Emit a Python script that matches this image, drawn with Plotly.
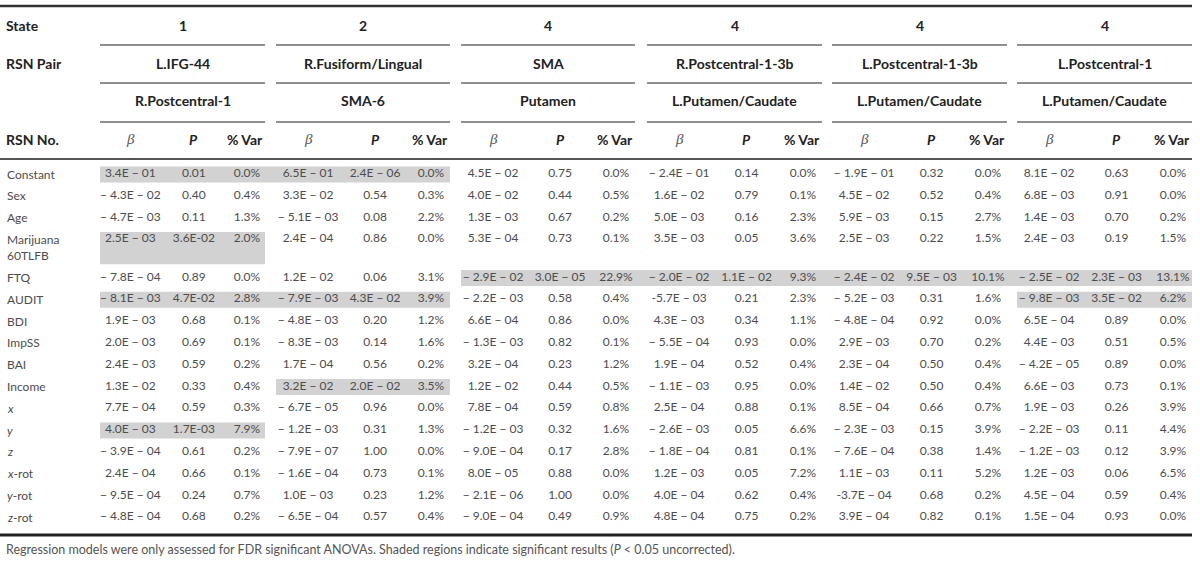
import plotly.graph_objects as go

# ---------------- data ----------------
states = ["1", "2", "4", "4", "4", "4"]
rsn_pair_a = ["L.IFG-44", "R.Fusiform/Lingual", "SMA", "R.Postcentral-1-3b", "L.Postcentral-1-3b", "L.Postcentral-1"]
rsn_pair_b = ["R.Postcentral-1", "SMA-6", "Putamen", "L.Putamen/Caudate", "L.Putamen/Caudate", "L.Putamen/Caudate"]

row_labels = ["Constant", "Sex", "Age", "Marijuana<br>60TLFB", "FTQ", "AUDIT", "BDI", "ImpSS", "BAI",
              "Income", "<i>x</i>", "<i>y</i>", "<i>z</i>", "<i>x</i>-rot", "<i>y</i>-rot", "<i>z</i>-rot"]
row_lines = [1, 1, 1, 2, 1, 1, 1, 1, 1, 1, 1, 1, 1, 1, 1, 1]

beta_g1 = ["3.4E − 01", "− 4.3E − 02", "− 4.7E − 03", "2.5E − 03", "− 7.8E − 04", "− 8.1E − 03", "1.9E − 03", "2.0E − 03",
           "2.4E − 03", "1.3E − 02", "7.7E − 04", "4.0E − 03", "− 3.9E − 04", "2.4E − 04", "− 9.5E − 04", "− 4.8E − 04"]
p_g1 = ["0.01", "0.40", "0.11", "3.6E-02", "0.89", "4.7E-02", "0.68", "0.69", "0.59", "0.33", "0.59", "1.7E-03",
        "0.61", "0.66", "0.24", "0.68"]
var_g1 = ["0.0%", "0.4%", "1.3%", "2.0%", "0.0%", "2.8%", "0.1%", "0.1%", "0.2%", "0.4%", "0.3%", "7.9%",
          "0.2%", "0.1%", "0.7%", "0.2%"]

beta_g2 = ["6.5E − 01", "3.3E − 02", "− 5.1E − 03", "2.4E − 04", "1.2E − 02", "− 7.9E − 03", "− 4.8E − 03", "− 8.3E − 03",
           "1.7E − 04", "3.2E − 02", "− 6.7E − 05", "− 1.2E − 03", "− 7.9E − 07", "− 1.6E − 04", "1.0E − 03", "− 6.5E − 04"]
p_g2 = ["2.4E − 06", "0.54", "0.08", "0.86", "0.06", "4.3E − 02", "0.20", "0.14", "0.56", "2.0E − 02", "0.96", "0.31",
        "1.00", "0.73", "0.23", "0.57"]
var_g2 = ["0.0%", "0.3%", "2.2%", "0.0%", "3.1%", "3.9%", "1.2%", "1.6%", "0.2%", "3.5%", "0.0%", "1.3%",
          "0.0%", "0.1%", "1.2%", "0.4%"]

beta_g3 = ["4.5E − 02", "4.0E − 02", "1.3E − 03", "5.3E − 04", "− 2.9E − 02", "− 2.2E − 03", "6.6E − 04", "− 1.3E − 03",
           "3.2E − 04", "1.2E − 02", "7.8E − 04", "− 1.2E − 03", "− 9.0E − 04", "8.0E − 05", "− 2.1E − 06", "− 9.0E − 04"]
p_g3 = ["0.75", "0.44", "0.67", "0.73", "3.0E − 05", "0.58", "0.86", "0.82", "0.23", "0.44", "0.59", "0.32",
        "0.17", "0.88", "1.00", "0.49"]
var_g3 = ["0.0%", "0.5%", "0.2%", "0.1%", "22.9%", "0.4%", "0.0%", "0.1%", "1.2%", "0.5%", "0.8%", "1.6%",
          "2.8%", "0.0%", "0.0%", "0.9%"]

beta_g4 = ["− 2.4E − 01", "1.6E − 02", "5.0E − 03", "3.5E − 03", "− 2.0E − 02", "-5.7E − 03", "4.3E − 03", "− 5.5E − 04",
           "1.9E − 04", "− 1.1E − 03", "2.5E − 04", "− 2.6E − 03", "− 1.8E − 04", "1.2E − 03", "4.0E − 04", "4.8E − 04"]
p_g4 = ["0.14", "0.79", "0.16", "0.05", "1.1E − 02", "0.21", "0.34", "0.93", "0.52", "0.95", "0.88", "0.05",
        "0.81", "0.05", "0.62", "0.75"]
var_g4 = ["0.0%", "0.1%", "2.3%", "3.6%", "9.3%", "2.3%", "1.1%", "0.0%", "0.4%", "0.0%", "0.1%", "6.6%",
          "0.1%", "7.2%", "0.4%", "0.2%"]

beta_g5 = ["− 1.9E − 01", "4.5E − 02", "5.9E − 03", "2.5E − 03", "− 2.4E − 02", "− 5.2E − 03", "− 4.8E − 04", "2.9E − 03",
           "2.3E − 04", "1.4E − 02", "8.5E − 04", "− 2.3E − 03", "− 7.6E − 04", "1.1E − 03", "-3.7E − 04", "3.9E − 04"]
p_g5 = ["0.32", "0.52", "0.15", "0.22", "9.5E − 03", "0.31", "0.92", "0.70", "0.50", "0.50", "0.66", "0.15",
        "0.38", "0.11", "0.68", "0.82"]
var_g5 = ["0.0%", "0.4%", "2.7%", "1.5%", "10.1%", "1.6%", "0.0%", "0.2%", "0.4%", "0.4%", "0.7%", "3.9%",
          "1.4%", "5.2%", "0.2%", "0.1%"]

beta_g6 = ["8.1E − 02", "6.8E − 03", "1.4E − 03", "2.4E − 03", "− 2.5E − 02", "− 9.8E − 03", "6.5E − 04", "4.4E − 03",
           "− 4.2E − 05", "6.6E − 03", "1.9E − 03", "− 2.2E − 03", "− 1.2E − 03", "1.2E − 03", "4.5E − 04", "1.5E − 04"]
p_g6 = ["0.63", "0.91", "0.70", "0.19", "2.3E − 03", "3.5E − 02", "0.89", "0.51", "0.89", "0.73", "0.26", "0.11",
        "0.12", "0.06", "0.59", "0.93"]
var_g6 = ["0.0%", "0.0%", "0.2%", "1.5%", "13.1%", "6.2%", "0.0%", "0.5%", "0.0%", "0.1%", "3.9%", "4.4%",
          "3.9%", "6.5%", "0.4%", "0.0%"]

# shaded (significant) cells: row index -> list of group indices
shaded = {0: [0, 1], 3: [0], 4: [2, 3, 4, 5], 5: [0, 1, 5], 9: [1], 11: [0]}

footnote = ("Regression models were only assessed for FDR significant ANOVAs. "
            "Shaded regions indicate significant results (<i>P</i> < 0.05 uncorrected).")

groups = [
    (beta_g1, p_g1, var_g1), (beta_g2, p_g2, var_g2), (beta_g3, p_g3, var_g3),
    (beta_g4, p_g4, var_g4), (beta_g5, p_g5, var_g5), (beta_g6, p_g6, var_g6),
]

# ---------------- layout geometry ----------------
W, H = 1200, 563
group_x0 = [100, 276, 461, 647, 832, 1017]
group_w = [165, 174, 174, 175, 175, 175]
col_frac = [0.184, 0.569, 0.891]
right_edge = 1192

y_first, pitch, extra = 174, 21.8, 16.3
row_y = []
yy = y_first
for n in row_lines:
    row_y.append(yy)
    yy += pitch + (n - 1) * extra

hdr_y = [25, 63, 100, 139]
line_y = [45, 83, 122]

FONT = "Lato"
DATA_COLOR = "#4d4d4d"
HDR_COLOR = "#222222"

fig = go.Figure()

# data cells
for gi, cols in enumerate(groups):
    for ci, vals in enumerate(cols):
        xc = group_x0[gi] + col_frac[ci] * group_w[gi]
        fig.add_trace(go.Scatter(
            x=[xc] * len(vals), y=row_y, text=vals, mode="text",
            textposition="middle center",
            textfont=dict(family=FONT, size=12, color=DATA_COLOR),
            hoverinfo="skip", showlegend=False))

ann = []
# row labels
for ri, lab in enumerate(row_labels):
    yc = row_y[ri] + (row_lines[ri] - 1) * extra / 2
    ann.append(dict(x=5, y=yc, text=lab, xanchor="left", yanchor="middle", align="left", showarrow=False,
                    font=dict(family=FONT, size=12, color=DATA_COLOR)))

# header labels
hfont = dict(family=FONT, size=14, color=HDR_COLOR)
for txt, yv in zip(["<b>State</b>", "<b>RSN Pair</b>", "", "<b>RSN No.</b>"], hdr_y):
    if txt:
        ann.append(dict(x=4, y=yv, text=txt, xanchor="left", yanchor="middle", showarrow=False, font=hfont))
for gi in range(6):
    xc = group_x0[gi] + group_w[gi] / 2
    for txt, yv in zip([states[gi], rsn_pair_a[gi], rsn_pair_b[gi]], hdr_y[:3]):
        ann.append(dict(x=xc, y=yv, text="<b>" + txt + "</b>", xanchor="center", yanchor="middle",
                        showarrow=False, font=hfont))
    ann.append(dict(x=group_x0[gi] + col_frac[0] * group_w[gi], y=hdr_y[3], text="<i>β</i>",
                    xanchor="center", yanchor="middle", showarrow=False,
                    font=dict(family="Liberation Serif", size=15, color="#555555")))
    ann.append(dict(x=group_x0[gi] + col_frac[1] * group_w[gi], y=hdr_y[3], text="<b><i>P</i></b>",
                    xanchor="center", yanchor="middle", showarrow=False, font=hfont))
    ann.append(dict(x=group_x0[gi] + group_w[gi], y=hdr_y[3], text="<b>% Var</b>",
                    xanchor="right", yanchor="middle", showarrow=False, font=hfont))

# footnote
ann.append(dict(x=4, y=549, text=footnote, xanchor="left", yanchor="middle", showarrow=False,
                font=dict(family=FONT, size=12.5, color="#555555")))

shapes = []
# shading
for ri, gl in shaded.items():
    runs = []
    for g in sorted(gl):
        if runs and g == runs[-1][-1] + 1:
            runs[-1].append(g)
        else:
            runs.append([g])
    for run in runs:
        x0 = group_x0[run[0]]
        x1 = group_x0[run[-1]] + group_w[run[-1]]
        y0 = row_y[ri] - 7.5
        y1 = row_y[ri] + (row_lines[ri] - 1) * extra + 8.5
        shapes.append(dict(type="rect", xref="x", yref="y", x0=x0, x1=x1, y0=y0, y1=y1,
                           fillcolor="#d2d2d2", line=dict(width=0), layer="below"))

# rules
shapes.append(dict(type="line", xref="x", yref="y", x0=0, x1=right_edge, y0=6, y1=6,
                   line=dict(color="#333333", width=2.5)))
for ly in line_y:
    for gi in range(6):
        shapes.append(dict(type="line", xref="x", yref="y", x0=group_x0[gi], x1=group_x0[gi] + group_w[gi],
                           y0=ly, y1=ly, line=dict(color="#6a6a6a", width=1.5)))
shapes.append(dict(type="line", xref="x", yref="y", x0=0, x1=right_edge, y0=159, y1=159,
                   line=dict(color="#555555", width=2)))
shapes.append(dict(type="line", xref="x", yref="y", x0=0, x1=right_edge, y0=535, y1=535,
                   line=dict(color="#222222", width=3)))

fig.update_layout(
    width=W, height=H, margin=dict(l=0, r=0, t=0, b=0),
    paper_bgcolor="white", plot_bgcolor="white",
    xaxis=dict(range=[0, W], visible=False, fixedrange=True),
    yaxis=dict(range=[H, 0], visible=False, fixedrange=True),
    annotations=ann, shapes=shapes, showlegend=False,
)

fig.write_html("out.html", config={"displayModeBar": False},
               post_script="document.body.style.margin='0';document.body.style.overflow='hidden';")
